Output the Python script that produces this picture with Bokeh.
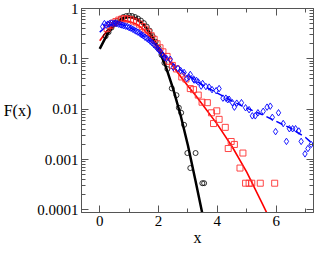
from bokeh.plotting import figure
from bokeh.models import LinearAxis, LogAxis, FixedTicker, CustomJSTickFormatter
from bokeh.embed import file_html
from bokeh.resources import INLINE

# ---- data ----
black_line_x = [0, 0.25, 0.5, 0.75, 1.0, 1.25, 1.5, 1.75, 2.0, 2.25, 2.5, 2.75, 3.0, 3.25, 3.5, 3.6]
black_line_y = [0.158, 0.302, 0.479, 0.631, 0.692, 0.631, 0.479, 0.302, 0.158, 0.0692, 0.0251,
                0.00759, 0.00191, 0.000398, 0.0000794, 0.0000398]

black_pts_x = [0.2, 0.3, 0.4, 0.5, 0.6, 0.7, 0.8, 0.9, 1.0, 1.1, 1.2, 1.3, 1.4, 1.5, 1.6, 1.7, 1.8,
               1.9, 2.0, 2.1, 2.2, 2.3, 2.45, 2.61, 2.69, 2.77, 2.87, 2.98, 3.26, 3.08, 3.49, 3.55]
black_pts_y = [0.282, 0.339, 0.417, 0.490, 0.562, 0.617, 0.676, 0.708, 0.724, 0.708, 0.676, 0.631,
               0.575, 0.513, 0.437, 0.363, 0.282, 0.219, 0.166, 0.120, 0.083, 0.063, 0.026, 0.019,
               0.0107, 0.0085, 0.0049, 0.00135, 0.00135, 0.00068, 0.00034, 0.00034]

red_line_x = [0, 0.25, 0.5, 0.75, 1.0, 1.25, 1.5, 1.75, 2.0, 2.25, 2.5, 2.75, 3.0, 3.25, 3.5,
              4.0, 4.5, 5.0, 5.5, 5.8]
red_line_y = [0.229, 0.363, 0.490, 0.589, 0.550, 0.490, 0.380, 0.263, 0.170, 0.112, 0.0708,
              0.0447, 0.0288, 0.0191, 0.0123, 0.00501, 0.00182, 0.000562, 0.000145, 0.0000631]

red_pts_x = [0.25, 0.35, 0.45, 0.55, 0.65, 0.75, 0.85, 0.95, 1.05, 1.15, 1.25, 1.35, 1.45, 1.55,
             1.65, 1.75, 1.85, 1.95, 2.05, 2.15, 2.29, 2.35, 2.47, 2.61, 2.79, 2.93, 3.08, 3.19,
             3.35, 3.48, 3.66, 3.80, 3.98, 4.06, 3.87, 4.27, 4.47, 4.58, 4.37, 4.87, 4.77,
             4.96, 5.08, 5.17, 5.46, 5.95]
red_pts_y = [0.398, 0.457, 0.513, 0.550, 0.589, 0.617, 0.631, 0.617, 0.603, 0.562, 0.537, 0.490,
             0.437, 0.389, 0.339, 0.288, 0.245, 0.200, 0.166, 0.138, 0.112, 0.0891, 0.0741,
             0.0631, 0.0437, 0.0398, 0.0257, 0.0245, 0.0191, 0.0138, 0.0135, 0.0085, 0.0093,
             0.0063, 0.0052, 0.00437, 0.00229, 0.0020, 0.00166, 0.00135, 0.00068,
             0.00034, 0.00034, 0.00034, 0.00034, 0.00034]

blue_line_x = [0, 0.25, 0.5, 0.75, 1.0, 1.25, 1.5, 1.75, 2.0, 2.25, 2.5, 2.75, 3.0, 3.5, 4.0,
               4.5, 5.0, 5.5, 6.0, 6.5, 7.0, 7.3]
blue_line_y = [0.339, 0.457, 0.501, 0.479, 0.427, 0.355, 0.282, 0.219, 0.151, 0.105, 0.0794,
               0.0603, 0.0468, 0.0302, 0.0209, 0.0145, 0.0105, 0.00794, 0.00575, 0.00417,
               0.00275, 0.00191]

blue_pts_x = [0.10, 0.16, 0.22, 0.28, 0.34, 0.40, 0.46, 0.52, 0.58, 0.64, 0.70, 0.76, 0.82, 0.88,
              0.94, 1.00, 1.06, 1.12, 1.18, 1.24, 1.30, 1.36, 1.42, 1.48, 1.54, 1.60, 1.66, 1.72,
              1.78, 1.84, 1.90, 1.96, 2.02, 2.08, 2.14, 2.20, 2.27, 2.40, 2.50, 2.66, 2.75, 2.87,
              2.96, 3.03, 3.08, 3.19, 3.21, 3.29, 3.35, 3.45, 3.50, 3.61, 3.72, 3.82, 3.96, 4.06,
              4.19, 4.29, 4.35, 4.40, 4.51, 4.66, 4.82, 4.58, 4.96, 5.08, 5.19, 5.29, 5.38, 5.56,
              5.69, 5.80, 5.87, 5.98, 6.08, 6.24, 6.35, 6.45, 6.56, 6.66, 6.77, 6.85, 6.98, 7.08,
              7.19, 7.29]
blue_pts_y = [0.437, 0.501, 0.468, 0.490, 0.501, 0.513, 0.501, 0.513, 0.501, 0.490, 0.479, 0.468,
              0.457, 0.447, 0.437, 0.417, 0.407, 0.389, 0.372, 0.355, 0.339, 0.324, 0.302, 0.288,
              0.269, 0.257, 0.240, 0.224, 0.209, 0.191, 0.178, 0.162, 0.148, 0.135, 0.120, 0.107,
              0.102, 0.098, 0.0676, 0.0646, 0.0589, 0.0537, 0.0407, 0.0437, 0.0490, 0.0398,
              0.0380, 0.0372, 0.0347, 0.0288, 0.0324, 0.0282, 0.0275, 0.0245, 0.0234, 0.0257,
              0.0166, 0.0166, 0.0155, 0.0158, 0.0135, 0.0132, 0.0135, 0.0110, 0.0107, 0.0098,
              0.0074, 0.0074, 0.0085, 0.0091, 0.0110, 0.0115, 0.0069, 0.0036, 0.0085, 0.0052,
              0.0023, 0.0041, 0.0041, 0.0041, 0.0037, 0.0023, 0.0013, 0.00166, 0.0020, 0.0020]

x_major = [0, 2, 4, 6]
x_minor = [1, 3, 5, 7]
y_major = [0.0001, 0.001, 0.01, 0.1, 1]
y_minor = [k * d for d in [0.0001, 0.001, 0.01, 0.1] for k in range(2, 10)]

FONT = "Liberation Serif"
AX = "#555555"

p = figure(width=316, height=248, y_axis_type="log",
           x_range=(-0.62, 7.27), y_range=(10 ** -4.05, 1.0),
           output_backend="svg", toolbar_location=None,
           min_border_left=0, min_border_right=3, min_border_top=8, min_border_bottom=0)
p.grid.visible = False
p.outline_line_color = AX
p.background_fill_color = "white"
p.border_fill_color = "white"

bottom = p.below[0]
left = p.left[0]

xt = FixedTicker(ticks=x_major, minor_ticks=x_minor)
yt = FixedTicker(ticks=y_major, minor_ticks=y_minor)
yfmt = CustomJSTickFormatter(code="return tick.toString();")
blank = CustomJSTickFormatter(code="return '';")

top = LinearAxis(ticker=xt, formatter=blank)
right = LogAxis(ticker=yt, formatter=blank)
p.add_layout(top, "above")
p.add_layout(right, "right")

for ax in [bottom, left, top, right]:
    ax.axis_line_color = AX
    ax.major_tick_line_color = AX
    ax.minor_tick_line_color = AX
    ax.major_tick_in = 7
    ax.major_tick_out = 0
    ax.minor_tick_in = 4
    ax.minor_tick_out = 0
    ax.major_label_text_font = FONT
    ax.major_label_text_font_size = "15px"
    ax.major_label_text_color = "black"
    ax.axis_label_text_font = FONT
    ax.axis_label_text_font_size = "16px"
    ax.axis_label_text_font_style = "normal"
    ax.axis_label_text_color = "black"

for ax in [top, right]:
    ax.major_label_text_font_size = "1px"
    ax.major_label_text_color = None
    ax.major_label_standoff = 0

bottom.ticker = xt
left.ticker = yt
left.formatter = yfmt
bottom.major_label_standoff = 3
left.major_label_standoff = 3
bottom.axis_label = "x"
bottom.axis_label_standoff = 0
left.axis_label = "F(x)"
left.axis_label_orientation = "horizontal"
left.axis_label_standoff = 3

# lines
p.line(black_line_x, black_line_y, line_color="black", line_width=2.5)
p.line(red_line_x, red_line_y, line_color="red", line_width=1.6)
p.line(blue_line_x, blue_line_y, line_color="blue", line_width=1.5, line_dash="7 4")

# markers
p.scatter(black_pts_x, black_pts_y, marker="circle", size=5, fill_color=None,
          line_color="black", line_width=0.8)
p.scatter(red_pts_x, red_pts_y, marker="square", size=6, fill_color=None,
          line_color="#ff3030", line_width=0.9)
p.scatter(blue_pts_x, blue_pts_y, marker="diamond", size=6.5, fill_color=None,
          line_color="blue", line_width=0.9)

open("out.html", "w").write(file_html(p, INLINE))
